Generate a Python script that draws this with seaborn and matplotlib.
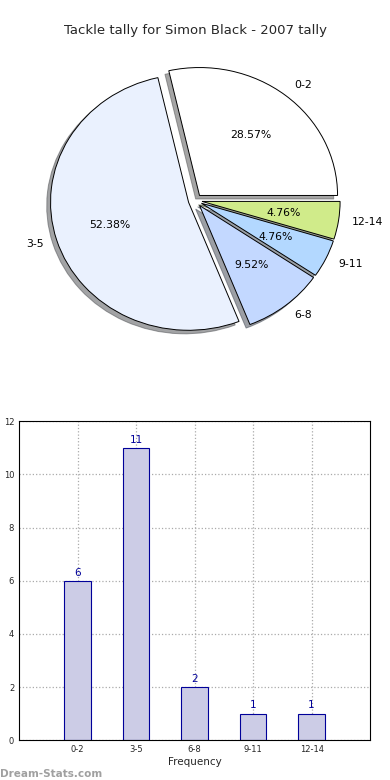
import pandas as pd
import matplotlib
matplotlib.use("Agg")
import matplotlib.pyplot as plt
import seaborn as sns

bins = ['0-2', '3-5', '6-8', '9-11', '12-14']
counts = [6, 11, 2, 1, 1]
pie_colors = ['#ffffff', '#eaf1fe', '#c3d8ff', '#b3d8ff', '#d0eb8a']

sns.set_style("white")
plt.rcParams['font.family'] = ['DejaVu Sans']

fig = plt.figure(figsize=(3.9, 7.8), dpi=100)

# pie on top
ax1 = fig.add_axes([0.058, 0.538, 0.885, 0.41])
wedges, texts, autotexts = ax1.pie(counts, labels=bins, colors=pie_colors,
                                   explode=[0.05] * 5, shadow=True,
                                   autopct='%1.2f%%', startangle=0,
                                   labeldistance=1.1, pctdistance=0.6,
                                   wedgeprops={'edgecolor': 'black', 'linewidth': 0.7},
                                   textprops={'fontsize': 7.8, 'color': 'black'})
ax1.set_aspect('auto')
ax1.set_title("Tackle tally for Simon Black - 2007 tally", fontsize=9.5, pad=5)

# bar chart below
df = pd.DataFrame({'bin': bins, 'count': counts})
ax2 = fig.add_axes([0.049, 0.051, 0.9, 0.409])
sns.barplot(data=df, x='bin', y='count', color='#cccce6', edgecolor='#000099',
            linewidth=0.8, width=0.45, saturation=1, ax=ax2, zorder=2)
ax2.set_xlim(-1, 5)
ax2.set_ylim(0, 12)
ax2.grid(True, linestyle=':', color='#aaaaaa', linewidth=0.9, zorder=0)
ax2.set_axisbelow(True)
for i, c in enumerate(counts):
    ax2.text(i, c + 0.12, str(c), ha='center', va='bottom', color='#000099', fontsize=7.5)
ax2.tick_params(labelsize=6, direction='in', length=3)
ax2.set_xlabel('Frequency', fontsize=7.5, labelpad=2)
ax2.set_ylabel('Distribution', fontsize=7.5, labelpad=4)
for s in ax2.spines.values():
    s.set_linewidth(0.8)
    s.set_color('black')

fig.text(0.0, 0.004, 'Dream-Stats.com', fontsize=7.5, color='#a0a0a0', fontweight='bold')

fig.savefig('out.png', dpi=100)
